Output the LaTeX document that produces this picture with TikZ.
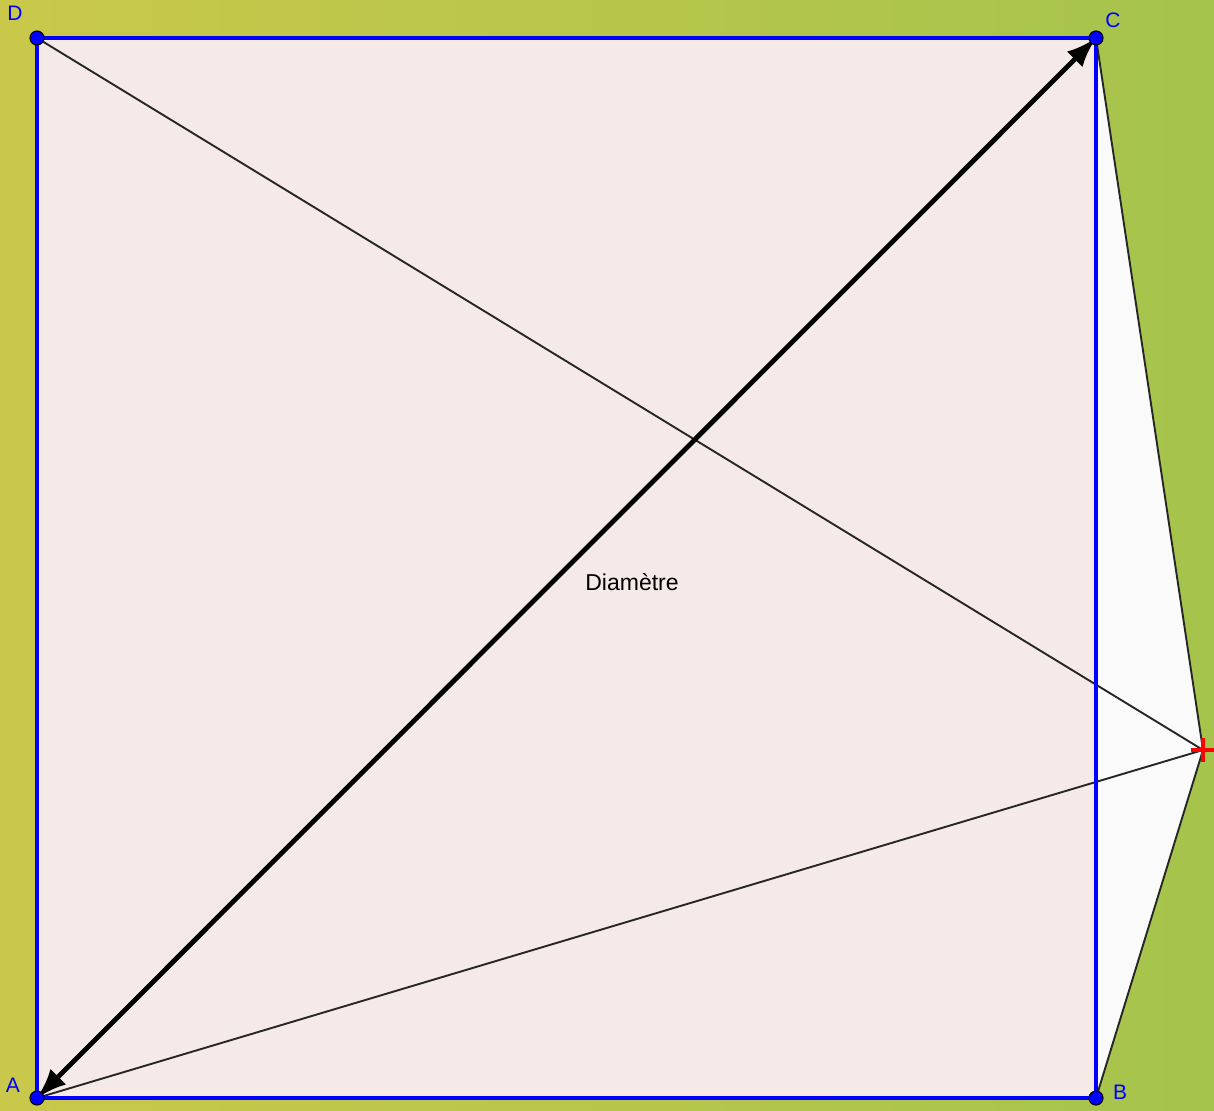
\documentclass[tikz,border=0pt]{standalone}
\usepackage{fontspec}
\setmainfont{Liberation Sans}
\usetikzlibrary{arrows.meta}
\definecolor{bgL}{HTML}{C9C84A}
\definecolor{bgR}{HTML}{A5C44C}
\definecolor{sqfill}{HTML}{F5EAE7}
\definecolor{ptblue}{HTML}{0000FF}
\tikzset{
  pt/.style={circle,fill=ptblue,draw=black,line width=1.1pt,inner sep=0pt,minimum size=14pt},
  lbl/.style={text=ptblue,font=\fontsize{21}{21}\selectfont,inner sep=0pt},
  thinline/.style={draw=black!85,line width=1.9pt},
  side/.style={draw=ptblue,line width=3.2pt},
}
\begin{document}
\begin{tikzpicture}[x=1pt,y=-1pt]
\useasboundingbox (0,0) rectangle (1214,1110);
\shade[left color=bgL,right color=bgR] (0,0) rectangle (1214,1110);
\coordinate (d) at (37,38);
\coordinate (c) at (1096,38);
\coordinate (b) at (1096,1098);
\coordinate (a) at (37,1098);
\coordinate (e) at (1203,750);
\fill[sqfill] (a) -- (b) -- (c) -- (d) -- cycle;
\fill[white!98!black] (c) -- (e) -- (b) -- cycle;
\draw[thinline] (d) -- (e);
\draw[thinline] (a) -- (e);
\draw[thinline] (c) -- (e) -- (b);
\draw[side] (a) -- (b) -- (c) -- (d) -- cycle;
\draw[black,line width=4.8pt,{Latex[length=30pt,width=22pt]}-{Latex[length=30pt,width=22pt]}] (a) -- (c);
\draw[red,line width=4.5pt] (1191,750) -- (1214,750) (1203,738) -- (1203,762);
\node[pt] (D) at (d) {};
\node[pt] (C) at (c) {};
\node[pt] (B) at (b) {};
\node[pt] (A) at (a) {};
\node[lbl] at (15,13) {D};
\node[lbl] at (1113,20) {C};
\node[lbl] at (1120,1092) {B};
\node[lbl] at (13,1085) {A};
\node[font=\fontsize{23}{23}\selectfont,inner sep=0pt] (lab) at (632,582) {Diamètre};
\end{tikzpicture}
\end{document}
